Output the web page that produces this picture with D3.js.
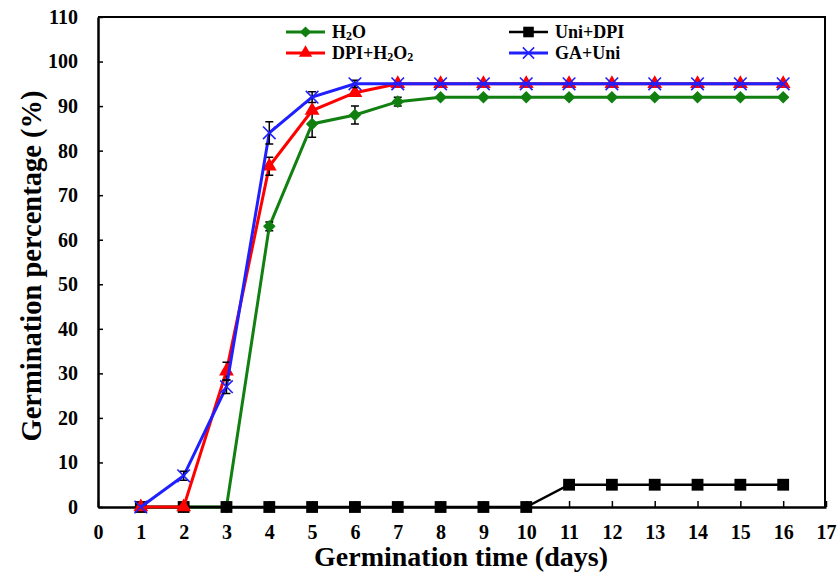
<!DOCTYPE html>
<html>
<head>
<meta charset="utf-8">
<script src="https://cdn.jsdelivr.net/npm/d3@7"></script>
<style>
  body { margin: 0; background: #fff; }
  text { font-family: "Liberation Serif", "Times New Roman", serif; font-weight: bold; }
</style>
</head>
<body>
<svg id="chart" width="840" height="575"></svg>
<script>
// data
const days = [1, 2, 3, 4, 5, 6, 7, 8, 9, 10, 11, 12, 13, 14, 15, 16];
const h2o      = [0, 0, 0, 63, 86, 88, 91, 92, 92, 92, 92, 92, 92, 92, 92, 92];
const h2oErr   = [0, 0, 0, 1, 3, 2, 1, 0, 0, 0, 0, 0, 0, 0, 0, 0];
const uniDpi   = [0, 0, 0, 0, 0, 0, 0, 0, 0, 0, 5, 5, 5, 5, 5, 5];
const uniDpiErr = [0, 0, 0, 0, 0, 0, 0, 0, 0, 0, 0, 0, 0, 0, 0, 0];
const dpiH2o2  = [0, 0, 30.5, 76.5, 89, 93, 95, 95, 95, 95, 95, 95, 95, 95, 95, 95];
const dpiH2o2Err = [0, 0, 2, 2, 0, 0, 0, 0, 0, 0, 0, 0, 0, 0, 0, 0];
const gaUni    = [0, 7, 27, 84, 92, 95, 95, 95, 95, 95, 95, 95, 95, 95, 95, 95];
const gaUniErr = [0, 1, 1.5, 2.5, 1.2, 0.8, 0, 0, 0, 0, 0, 0, 0, 0, 0, 0];
const xTicks = d3.range(0, 18);
const yTicks = d3.range(0, 111, 10);

const series = [
  { name: "H2O", values: h2o, err: h2oErr, color: "#118011", symbol: d3.symbolDiamond2, size: 100, width: 3 },
  { name: "Uni+DPI", values: uniDpi, err: uniDpiErr, color: "#000000", symbol: d3.symbolSquare, size: 140, width: 2.5 },
  { name: "DPI+H2O2", values: dpiH2o2, err: dpiH2o2Err, color: "#ff0000", symbol: d3.symbolTriangle, size: 95, width: 3 },
  { name: "GA+Uni", values: gaUni, err: gaUniErr, color: "#2020ff", symbol: d3.symbolTimes, size: 105, width: 3 }
];

const svg = d3.select("#chart");
const pLeft = 98, pRight = 825, pTop = 17, pBottom = 507;

const x = d3.scaleLinear().domain([0, 17]).range([pLeft, 826]);
const y = d3.scaleLinear().domain([0, 110]).range([pBottom, pTop]);

// frame (top and right)
svg.append("path")
  .attr("d", `M${pLeft},${pTop}H${pRight}V${pBottom}`)
  .attr("fill", "none").attr("stroke", "#000").attr("stroke-width", 2);

// axes, ticks inside
const xAxis = svg.append("g").attr("transform", `translate(0,${pBottom})`)
  .call(d3.axisBottom(x).tickValues(xTicks).tickSizeInner(-6).tickSizeOuter(0));
const yAxis = svg.append("g").attr("transform", `translate(${pLeft},0)`)
  .call(d3.axisLeft(y).tickValues(yTicks).tickSizeInner(-5).tickSizeOuter(0).tickPadding(20));

[xAxis, yAxis].forEach(g => {
  g.select(".domain").attr("stroke-width", 2.5);
  g.selectAll(".tick line").attr("stroke-width", 1.5);
  g.selectAll(".tick text").attr("font-size", 20).attr("fill", "#000")
    .style("font-family", "'Liberation Serif', serif").style("font-weight", "bold");
});
xAxis.selectAll(".tick text").attr("y", 32).attr("dy", 0);

// axis titles
svg.append("text")
  .attr("x", 461).attr("y", 566)
  .attr("text-anchor", "middle").attr("font-size", 28)
  .text("Germination time (days)");
svg.append("text")
  .attr("transform", `translate(41,266) rotate(-90)`)
  .attr("text-anchor", "middle").attr("font-size", 28.5)
  .text("Germination percentage (%)");

const line = d3.line().x((d, i) => x(days[i])).y(d => y(d));

series.forEach(s => {
  const g = svg.append("g");
  g.append("path").datum(s.values)
    .attr("d", line).attr("fill", "none")
    .attr("stroke", s.color).attr("stroke-width", s.width);

  // error bars
  s.values.forEach((v, i) => {
    const e = s.err[i];
    if (!e) return;
    const cx = x(days[i]);
    g.append("path")
      .attr("d", `M${cx - 4},${y(v + e)}H${cx + 4}M${cx},${y(v + e)}V${y(v - e)}M${cx - 4},${y(v - e)}H${cx + 4}`)
      .attr("fill", "none").attr("stroke", "#000").attr("stroke-width", 1.5);
  });

  g.selectAll("path.mark").data(s.values).enter().append("path")
    .attr("class", "mark")
    .attr("transform", (d, i) => `translate(${x(days[i])},${y(d)})`)
    .attr("d", d3.symbol().type(s.symbol).size(s.size))
    .attr("fill", s.symbol === d3.symbolTimes ? "none" : s.color)
    .attr("stroke", s.color)
    .attr("stroke-width", s.symbol === d3.symbolTimes ? 1.6 : 0);
});

// legend
const legendItems = [
  { s: series[0], lx: 286, ly: 32, label: ["H", "2", "O"] },
  { s: series[1], lx: 509, ly: 32, label: ["Uni+DPI"] },
  { s: series[2], lx: 286, ly: 53, label: ["DPI+H", "2", "O", "2"] },
  { s: series[3], lx: 509, ly: 53, label: ["GA+Uni"] }
];
legendItems.forEach(it => {
  const g = svg.append("g");
  g.append("line").attr("x1", it.lx).attr("x2", it.lx + 39)
    .attr("y1", it.ly).attr("y2", it.ly)
    .attr("stroke", it.s.color).attr("stroke-width", it.s.width);
  g.append("path")
    .attr("transform", `translate(${it.lx + 19.5},${it.ly})`)
    .attr("d", d3.symbol().type(it.s.symbol).size(it.s.size * 0.8))
    .attr("fill", it.s.symbol === d3.symbolTimes ? "none" : it.s.color)
    .attr("stroke", it.s.color)
    .attr("stroke-width", it.s.symbol === d3.symbolTimes ? 1.5 : 0);
  const t = g.append("text").attr("x", it.lx + 46).attr("y", it.ly + 6).attr("font-size", 18);
  it.label.forEach((part, k) => {
    const sub = part === "2";
    t.append("tspan").text(part)
      .attr("font-size", sub ? 12 : 18)
      .attr("dy", sub ? 2 : (k > 0 ? -2 : 0));
  });
});
</script>
</body>
</html>
